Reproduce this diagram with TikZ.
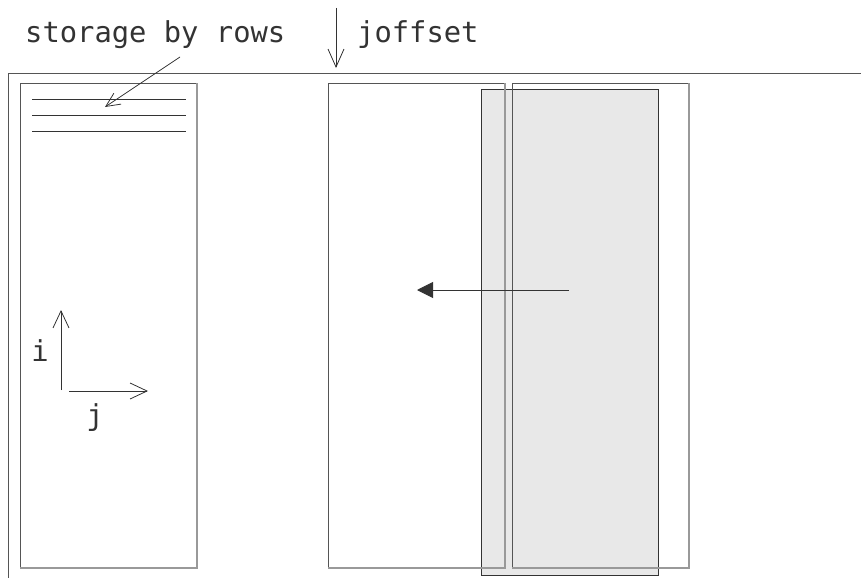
\documentclass[tikz,border=0pt]{standalone}
\usepackage{fontspec}
\setmainfont{DejaVu Sans Mono}
\usetikzlibrary{arrows.meta}
\definecolor{edgedark}{HTML}{555555}
\definecolor{edgelight}{HTML}{999999}
\definecolor{shade}{HTML}{E8E8E8}
\definecolor{ink}{HTML}{333333}
\tikzset{
  panel/.style={inner sep=0pt, outer sep=0pt, minimum width=177pt, minimum height=485pt, anchor=north west},
  darkedge/.style={draw=edgedark, line width=1pt},
  lightedge/.style={draw=edgelight, line width=1.3pt},
  label/.style={font=\fontsize{28.8pt}{34pt}\selectfont, text=ink, inner sep=0pt},
  openarrow/.style={draw=ink, line width=0.8pt, -{Straight Barb[length=17pt,width=16pt,line width=0.8pt]}},
  thin/.style={draw=ink, line width=0.8pt}
}
\begin{document}
\begin{tikzpicture}[x=1pt,y=-1pt]
\useasboundingbox[fill=white] (0,0) rectangle (861,578);
% outer frame
\coordinate (fr) at (861,73);
\coordinate (fc) at (8,73);
\coordinate (fb) at (8,578);
\draw[darkedge] (fr) -- (fc) -- (fb);
% shaded moved panel (drawn first)
\node[panel, minimum height=486pt, fill=shade, draw=ink, line width=1pt] (G) at (481,89) {};
% panels
\node[panel] (L) at (20,83) {};
\node[panel] (A) at (328,83) {};
\node[panel] (B) at (512,83) {};
\foreach \p in {L,A,B}{
  \draw[darkedge] (\p.south west) |- (\p.north east);
  \draw[lightedge] (\p.north east) |- (\p.south west);
}
% storage rows
\foreach \y in {99,115,131}{
  \coordinate (r\y a) at (32,\y);
  \coordinate (r\y b) at (186,\y);
  \draw[thin] (r\y a) -- (r\y b);
}
% labels
\node[label, anchor=base west] (st) at (25,42) {storage by rows};
\node[label, anchor=base west] (jo) at (357,42) {joffset};
\node[label, anchor=base] (il) at (40,361) {i};
\node[label, anchor=base] (jl) at (95,425) {j};
% storage arrow
\coordinate (sa) at (180,57);
\coordinate (sb) at (105,107);
\draw[draw=ink, line width=0.8pt, -{Straight Barb[length=14pt,width=13pt,line width=0.8pt]}] (sa) -- (sb);
% joffset arrow
\coordinate (ja) at (336,8);
\coordinate (jb) at (336,68);
\draw[openarrow, -{Straight Barb[length=18pt,width=16pt,line width=0.8pt]}] (ja) -- (jb);
% i / j axes
\coordinate (ia) at (61,390);
\coordinate (ib) at (61,310);
\draw[openarrow] (ia) -- (ib);
\coordinate (xa) at (69,391);
\coordinate (xb) at (148,391);
\draw[openarrow] (xa) -- (xb);
% shift arrow
\coordinate (ma) at (569,290);
\coordinate (mb) at (417,290);
\draw[draw=ink, line width=0.9pt, -{Triangle[length=16pt,width=16pt]}, ink] (ma) -- (mb);
\end{tikzpicture}
\end{document}
